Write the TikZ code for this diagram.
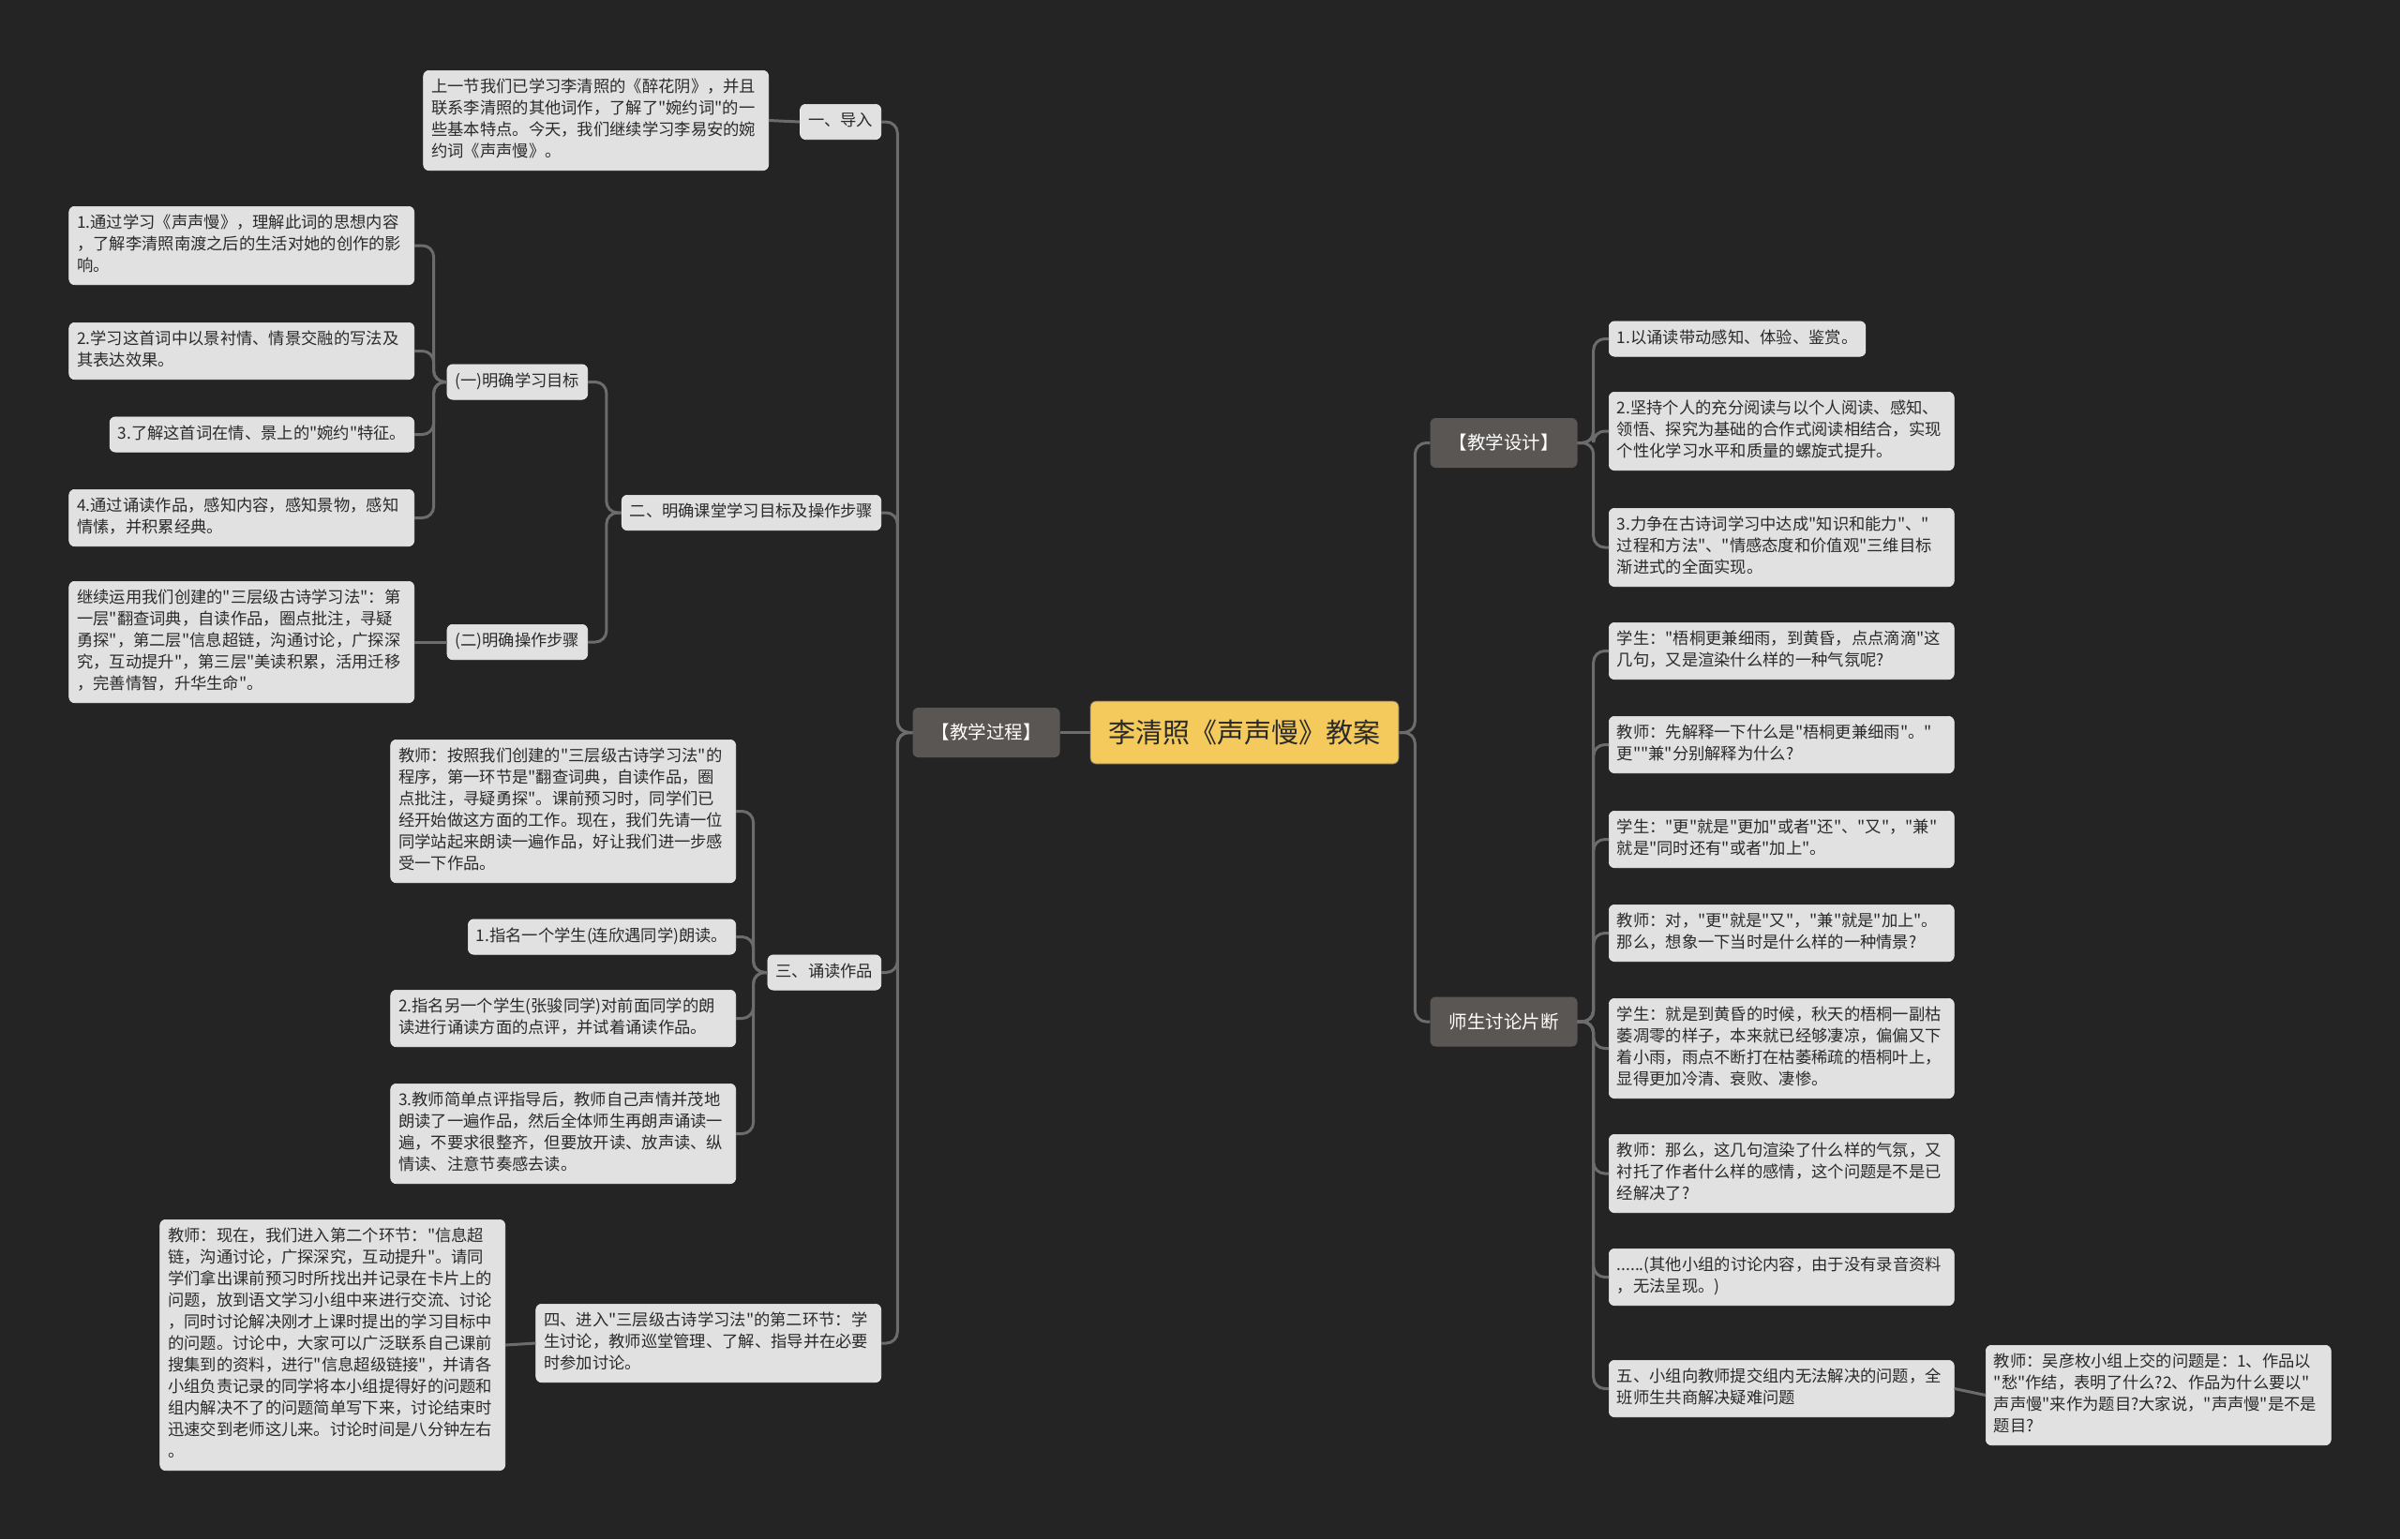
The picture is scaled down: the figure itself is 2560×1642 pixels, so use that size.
\documentclass[tikz,border=0pt]{standalone}
\usepackage{fontspec}
\setmainfont{Noto Sans CJK SC}
\newfontfamily\cjkfont{Noto Sans CJK SC}
\usepackage{xcolor}
\definecolor{bgDark}{HTML}{242424}
\definecolor{boxLight}{HTML}{E1E1E1}
\definecolor{boxEdge}{HTML}{F0F0F0}
\definecolor{inkDark}{HTML}{2A2A2A}
\definecolor{topicGray}{HTML}{5A5654}
\definecolor{rootYellow}{HTML}{F4CA5C}
\definecolor{linkGray}{HTML}{6C6C6C}
\usepackage{tikz}
\usetikzlibrary{positioning}
\tikzset{
    % Base style for all boxes
    map base/.style={
        rectangle,
        rounded corners=6pt,
        align=left,
        text=inkDark,
    },
    % Leaf boxes - light gray, small text
    leaf box/.style={
        map base,
        fill=boxLight,
        draw=boxEdge,
        line width=0.6pt,
        font=\cjkfont\fontsize{17.3}{23}\selectfont,
        inner xsep=8.5pt,
        inner ysep=7.2pt,
        execute at begin node=\strut,
        execute at end node=\strut,
    },
    % Leaf boxes with several lines
    note box/.style={
        leaf box,
        text width=351pt,
    },
    % Topic boxes - dark gray, white text
    topic box/.style={
        map base,
        fill=topicGray,
        text=white,
        align=center,
        font=\cjkfont\fontsize{19.5}{23}\selectfont,
        minimum width=157pt,
        minimum height=53pt,
    },
    % Central title
    root box/.style={
        map base,
        fill=rootYellow,
        draw=black!60,
        line width=0.8pt,
        align=center,
        font=\cjkfont\fontsize{29}{34}\selectfont,
        minimum width=329pt,
        minimum height=67pt,
    },
    % Branch lines
    link/.style={
        draw=linkGray,
        line width=3pt,
        rounded corners=12pt,
    },
}

\begin{document}
\begin{tikzpicture}[x=1pt, y=-1pt]
    \useasboundingbox (0,0) rectangle (2560,1642);
    \fill[bgDark] (0,0) rectangle (2560,1642);

    % centre and main topics
    \node (root) [root box] at (1327.5,781.5) {李清照《声声慢》教案};
    \node (process) [topic box] at (1052,781.5) {【教学过程】};
    \node (design) [topic box] at (1604,472.5) {【教学设计】};
    \node (talk) [topic box] at (1604,1090) {师生讨论片断};

    % left side: teaching process
    \node (intro) [leaf box, anchor=east] at (940,130) {一、导入};
    \node (introtext) [note box, anchor=north east] at (820,75) {上一节我们已学习李清照的《醉花阴》，并且\\联系李清照的其他词作，了解了"婉约词"的一\\些基本特点。今天，我们继续学习李易安的婉\\约词《声声慢》。};

    \node (aims) [leaf box, anchor=east] at (940,547) {二、明确课堂学习目标及操作步骤};
    \node (goal) [leaf box, anchor=east] at (627,407.5) {(一)明确学习目标};
    \node (steps) [leaf box, anchor=east] at (627,685) {(二)明确操作步骤};
    \node (goal1) [note box, anchor=north east] at (442,220) {1.通过学习《声声慢》，理解此词的思想内容\\，了解李清照南渡之后的生活对她的创作的影\\响。};
    \node (goal2) [note box, anchor=north east] at (442,344) {2.学习这首词中以景衬情、情景交融的写法及\\其表达效果。};
    \node (goal3) [leaf box, anchor=east] at (442,463.5) {3.了解这首词在情、景上的"婉约"特征。};
    \node (goal4) [note box, anchor=north east] at (442,522) {4.通过诵读作品，感知内容，感知景物，感知\\情愫，并积累经典。};
    \node (method) [note box, anchor=north east] at (442,620) {继续运用我们创建的"三层级古诗学习法"：第\\一层"翻查词典，自读作品，圈点批注，寻疑\\勇探"，第二层"信息超链，沟通讨论，广探深\\究，互动提升"，第三层"美读积累，活用迁移\\，完善情智，升华生命"。};

    \node (recite) [leaf box, anchor=east] at (940,1037.5) {三、诵读作品};
    \node (recite0) [note box, anchor=north east] at (785,789) {教师：按照我们创建的"三层级古诗学习法"的\\程序，第一环节是"翻查词典，自读作品，圈\\点批注，寻疑勇探"。课前预习时，同学们已\\经开始做这方面的工作。现在，我们先请一位\\同学站起来朗读一遍作品，好让我们进一步感\\受一下作品。};
    \node (recite1) [leaf box, anchor=east] at (785,999.5) {1.指名一个学生(连欣遇同学)朗读。};
    \node (recite2) [note box, anchor=north east] at (785,1056) {2.指名另一个学生(张骏同学)对前面同学的朗\\读进行诵读方面的点评，并试着诵读作品。};
    \node (recite3) [note box, anchor=north east] at (785,1156) {3.教师简单点评指导后，教师自己声情并茂地\\朗读了一遍作品，然后全体师生再朗声诵读一\\遍，不要求很整齐，但要放开读、放声读、纵\\情读、注意节奏感去读。};

    \node (second) [note box, anchor=north east] at (940,1391) {四、进入"三层级古诗学习法"的第二环节：学\\生讨论，教师巡堂管理、了解、指导并在必要\\时参加讨论。};
    \node (second1) [note box, anchor=north east] at (539,1301) {教师：现在，我们进入第二个环节："信息超\\链，沟通讨论，广探深究，互动提升"。请同\\学们拿出课前预习时所找出并记录在卡片上的\\问题，放到语文学习小组中来进行交流、讨论\\，同时讨论解决刚才上课时提出的学习目标中\\的问题。讨论中，大家可以广泛联系自己课前\\搜集到的资料，进行"信息超级链接"，并请各\\小组负责记录的同学将本小组提得好的问题和\\组内解决不了的问题简单写下来，讨论结束时\\迅速交到老师这儿来。讨论时间是八分钟左右\\。};

    % right side: design
    \node (design1) [leaf box, anchor=west] at (1716,361.5) {1.以诵读带动感知、体验、鉴赏。};
    \node (design2) [note box, anchor=north west] at (1716,418) {2.坚持个人的充分阅读与以个人阅读、感知、\\领悟、探究为基础的合作式阅读相结合，实现\\个性化学习水平和质量的螺旋式提升。};
    \node (design3) [note box, anchor=north west] at (1716,542) {3.力争在古诗词学习中达成"知识和能力"、"\\过程和方法"、"情感态度和价值观"三维目标\\渐进式的全面实现。};

    % right side: discussion
    \node (talk1) [note box, anchor=north west] at (1716,664) {学生："梧桐更兼细雨，到黄昏，点点滴滴"这\\几句，又是渲染什么样的一种气氛呢?};
    \node (talk2) [note box, anchor=north west] at (1716,764) {教师：先解释一下什么是"梧桐更兼细雨"。"\\更""兼"分别解释为什么?};
    \node (talk3) [note box, anchor=north west] at (1716,865) {学生："更"就是"更加"或者"还"、"又"，"兼"\\就是"同时还有"或者"加上"。};
    \node (talk4) [note box, anchor=north west] at (1716,965) {教师：对，"更"就是"又"，"兼"就是"加上"。\\那么，想象一下当时是什么样的一种情景?};
    \node (talk5) [note box, anchor=north west] at (1716,1065) {学生：就是到黄昏的时候，秋天的梧桐一副枯\\萎凋零的样子，本来就已经够凄凉，偏偏又下\\着小雨，雨点不断打在枯萎稀疏的梧桐叶上，\\显得更加冷清、衰败、凄惨。};
    \node (talk6) [note box, anchor=north west] at (1716,1210) {教师：那么，这几句渲染了什么样的气氛，又\\衬托了作者什么样的感情，这个问题是不是已\\经解决了?};
    \node (talk7) [note box, anchor=north west] at (1716,1332) {......(其他小组的讨论内容，由于没有录音资料\\，无法呈现。)};
    \node (talk8) [note box, anchor=north west] at (1716,1451) {五、小组向教师提交组内无法解决的问题，全\\班师生共商解决疑难问题};
    \node (talk8a) [note box, anchor=north west] at (2118,1435) {教师：吴彦枚小组上交的问题是：1、作品以\\"愁"作结，表明了什么?2、作品为什么要以"\\声声慢"来作为题目?大家说，"声声慢"是不是\\题目?};

    % links
    \draw [link] (root.west) -- (process.east);
    \foreach \n in {design, talk}
        \draw [link] (root.east) -- ++(17,0) |- (\n.west);
    \foreach \n in {intro, aims, recite, second}
        \draw [link] (process.west) -- ++(-16,0) |- (\n.east);
    \draw [link] (intro.west) -- (introtext.east);
    \foreach \n in {goal, steps}
        \draw [link] (aims.west) -- ++(-16,0) |- (\n.east);
    \foreach \n in {goal1, goal2, goal3, goal4}
        \draw [link] (goal.west) -- ++(-14,0) |- (\n.east);
    \draw [link] (steps.west) -- (method.east);
    \foreach \n in {recite0, recite1, recite2, recite3}
        \draw [link] (recite.west) -- ++(-15,0) |- (\n.east);
    \draw [link] (second.west) -- (second1.east);
    \foreach \n in {design1, design2, design3}
        \draw [link] (design.east) -- ++(17,0) |- (\n.west);
    \foreach \n in {talk1, talk2, talk3, talk4, talk5, talk6, talk7, talk8}
        \draw [link] (talk.east) -- ++(17,0) |- (\n.west);
    \draw [link] (talk8.east) -- (talk8a.west);
\end{tikzpicture}
\end{document}
